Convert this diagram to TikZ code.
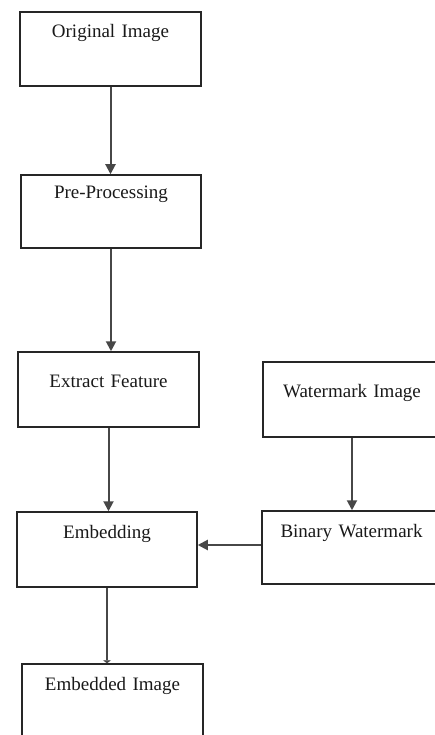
\documentclass[tikz,border=0pt]{standalone}
\usepackage{fontspec}
\setmainfont{Liberation Serif}
\usetikzlibrary{arrows.meta}
\begin{document}
\begin{tikzpicture}[x=1pt,y=-1pt,
  flowbox/.style={draw=black!85, line width=1.5pt, inner sep=0pt,
    text width=#1, align=center, text=black!90, font=\fontsize{19}{23}\selectfont},
  arr/.style={draw=black!72, line width=2pt, -{Triangle[length=10pt,width=10pt]}},
  arrsmall/.style={draw=black!72, line width=2pt, -{Triangle[length=3pt,width=8pt]}}]
\useasboundingbox (0,0) rectangle (435,735);
\clip (0,0) rectangle (435,735);
\node[flowbox=181pt, text height=25.5pt, text depth=48.5pt] (b1) at (110.5,49) {Original Image};
\node[flowbox=180pt, text height=24pt, text depth=49pt] (b2) at (111,211.5) {Pre-Processing};
\node[flowbox=181pt, text height=35pt, text depth=40pt] (b3) at (108.5,389.5) {Extract Feature};
\node[flowbox=178pt, text height=35pt, text depth=40pt] (wm) at (352,399.5) {Watermark Image};
\node[flowbox=180pt, text height=26pt, text depth=49pt] (em) at (107,549.5) {Embedding};
\node[flowbox=179pt, text height=26pt, text depth=47pt] (bw) at (351.5,547.5) {Binary Watermark};
\node[flowbox=181pt, text height=26pt, text depth=49pt] (ei) at (112.5,701.5) {Embedded Image};
\draw[arr] (b1) -- (b1 |- b2.north);
\draw[arr] (b2) -- (b2 |- b3.north);
\draw[arr] (b3) -- (b3 |- em.north);
\draw[arr] (wm) -- (wm |- bw.north);
\coordinate (bwl) at ([yshift=2.5pt]bw.west);
\draw[arr] (bwl) -- (bwl -| em.east);
\draw[arrsmall] (em) -- (em |- ei.north);
\end{tikzpicture}
\end{document}
